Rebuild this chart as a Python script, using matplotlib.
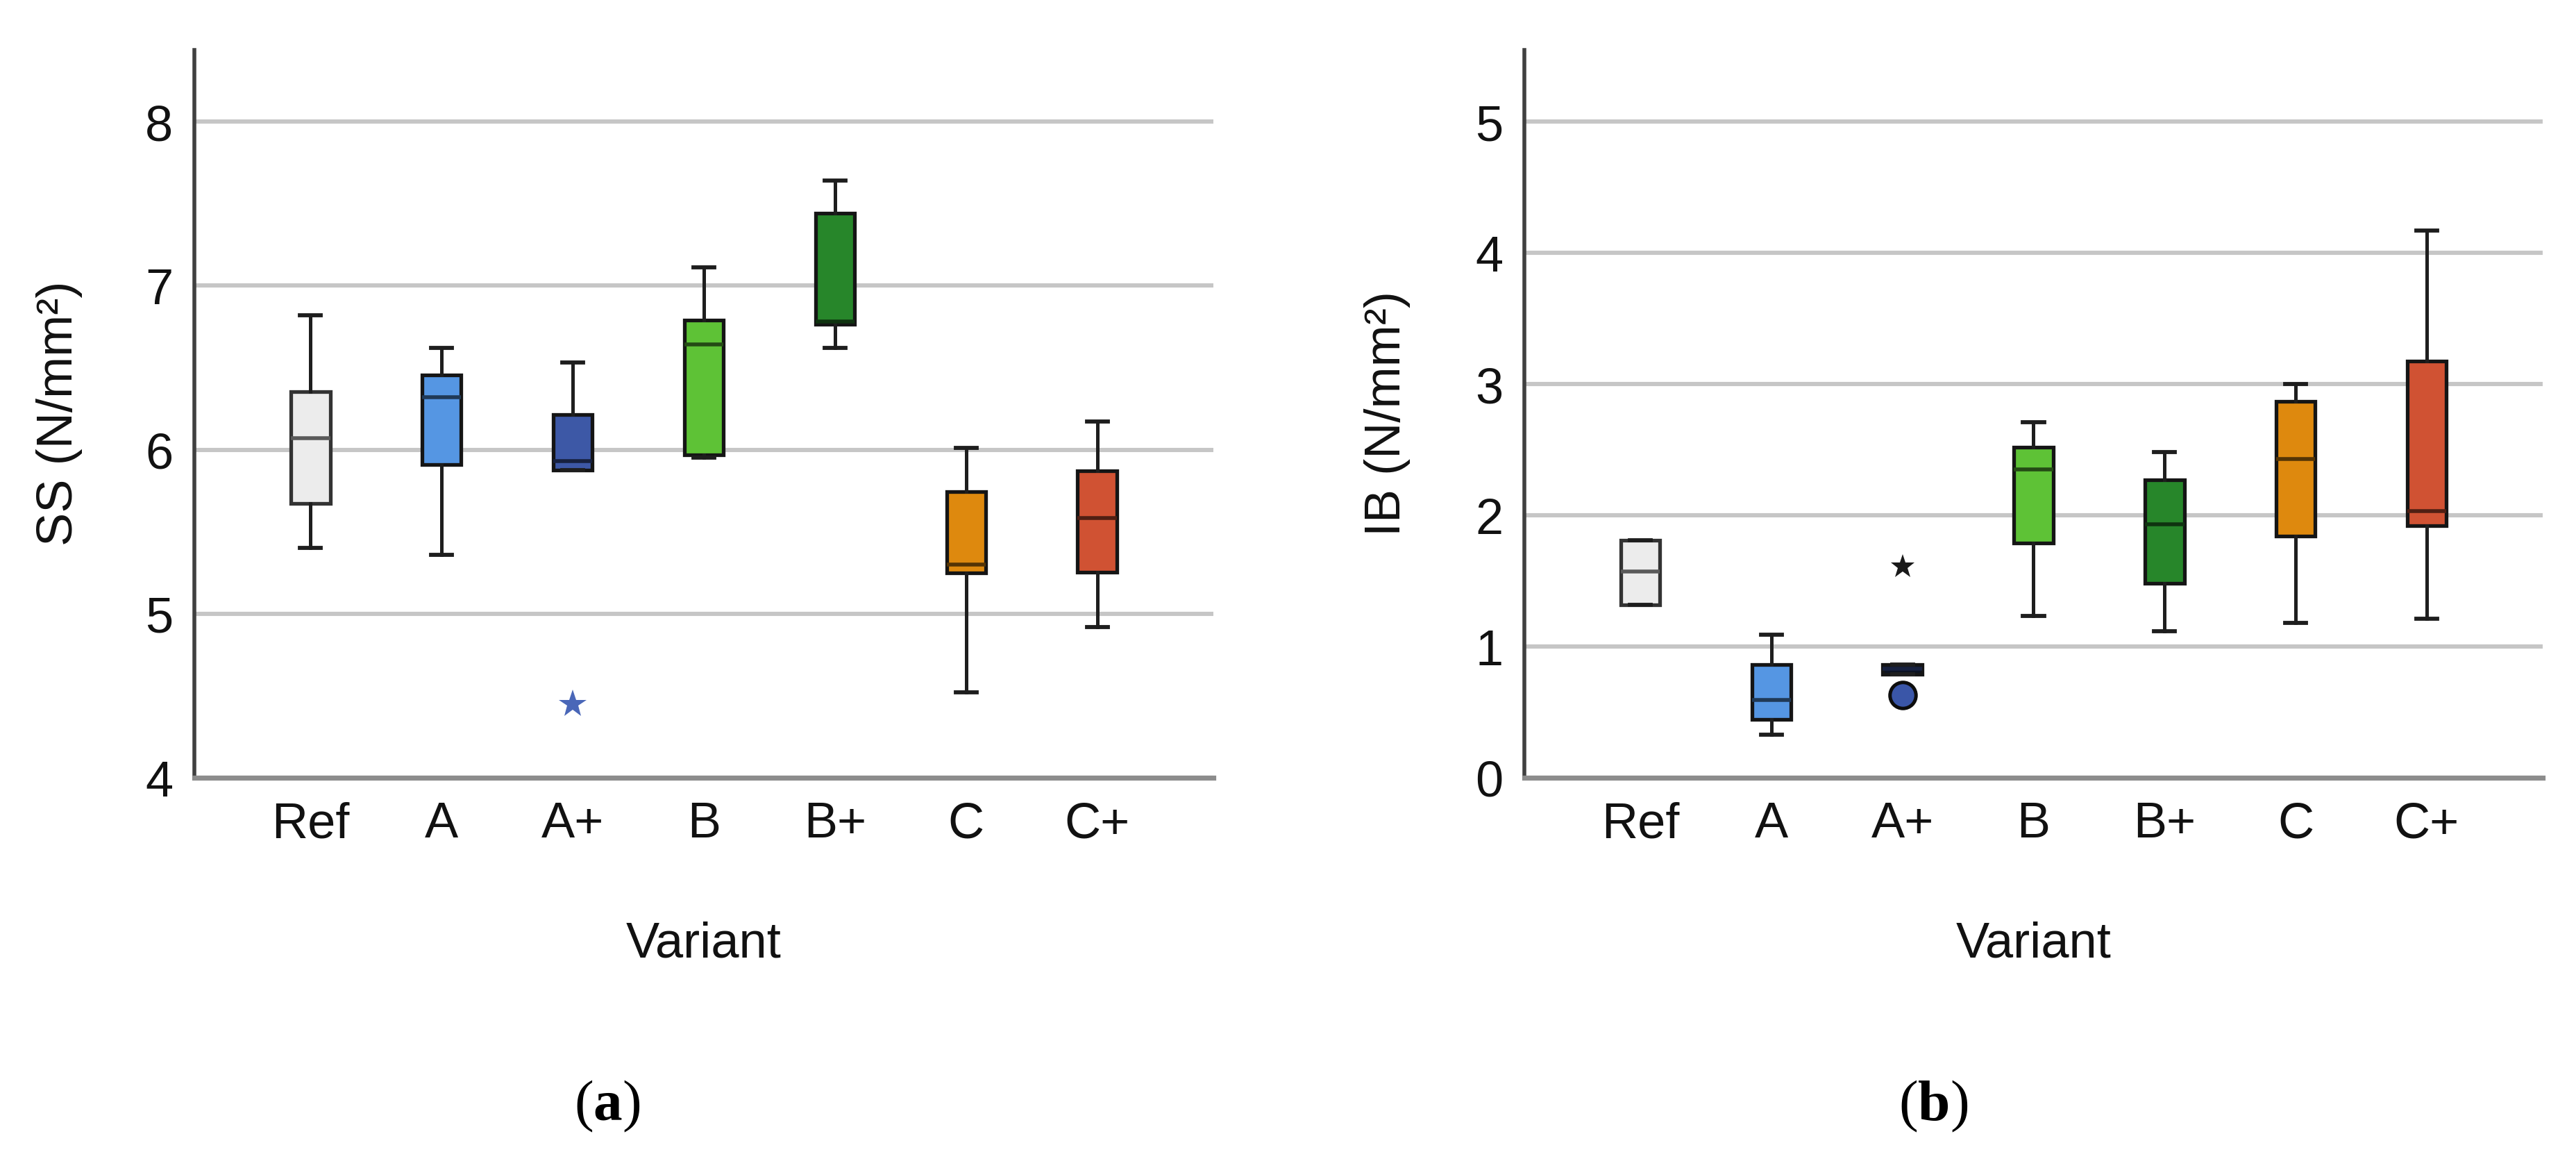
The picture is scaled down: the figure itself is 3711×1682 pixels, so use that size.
import matplotlib
matplotlib.use("Agg")
import matplotlib.pyplot as plt
import numpy as np

plt.rcParams['font.family'] = ['Liberation Sans', 'DejaVu Sans']
plt.rcParams['mathtext.fontset'] = 'custom'
plt.rcParams['mathtext.rm'] = 'Liberation Serif'
plt.rcParams['mathtext.bf'] = 'Liberation Serif:bold'

# ---------------- data ----------------
categories = ['Ref', 'A', 'A+', 'B', 'B+', 'C', 'C+']
box_colors = ['#ececec', '#5596e3', '#3d58a6', '#5ec236', '#27862a', '#de890e', '#d05233']

# Panel (a): SS (N/mm²)
ss_whislo = [5.40, 5.36, 5.875, 5.95, 6.62, 4.52, 4.92]
ss_q1     = [5.67, 5.91, 5.875, 5.97, 6.765, 5.25, 5.255]
ss_med    = [6.07, 6.32, 5.93, 6.64, 6.78, 5.30, 5.585]
ss_q3     = [6.355, 6.455, 6.215, 6.79, 7.44, 5.745, 5.87]
ss_whishi = [6.82, 6.62, 6.53, 7.11, 7.64, 6.01, 6.17]
ss_star_cat = ['A+']
ss_star_val = [4.45]

# Panel (b): IB (N/mm²)
ib_whislo = [1.32, 0.33, 0.79, 1.235, 1.115, 1.18, 1.21]
ib_q1     = [1.32, 0.445, 0.79, 1.79, 1.48, 1.84, 1.92]
ib_med    = [1.57, 0.595, 0.83, 2.35, 1.93, 2.43, 2.03]
ib_q3     = [1.81, 0.865, 0.865, 2.52, 2.27, 2.87, 3.175]
ib_whishi = [1.81, 1.09, 0.865, 2.71, 2.48, 3.00, 4.17]
ib_star_cat = ['A+']
ib_star_val = [1.61]
ib_circle_cat = ['A+']
ib_circle_val = [0.63]

ss_yticks = [4, 5, 6, 7, 8]
ib_yticks = [0, 1, 2, 3, 4, 5]

# ---------------- figure ----------------
W, H = 3712, 1683
DPI = 200
fig = plt.figure(figsize=(W / DPI, H / DPI), dpi=DPI)
fig.patch.set_facecolor('white')

ax_top, ax_bot = 73, 1121


def add_ax(x0, x1):
    return fig.add_axes([x0 / W, 1 - ax_bot / H, (x1 - x0) / W, (ax_bot - ax_top) / H])


ax1 = add_ax(280, 1748)
ax2 = add_ax(2196, 3663)


def darken(c, f):
    r, g, b = matplotlib.colors.to_rgb(c)
    return (r * f, g * f, b * f)


def draw_panel(ax, whislo, q1, med, q3, whishi, ylim, yticks, face_override=None):
    positions = np.arange(1, len(categories) + 1)
    stats = []
    for i, c in enumerate(categories):
        stats.append(dict(label=c, whislo=whislo[i], q1=q1[i], med=med[i],
                          q3=q3[i], whishi=whishi[i], fliers=[]))
    res = ax.bxp(stats, positions=positions, widths=0.3, patch_artist=True,
                 showfliers=False, capwidths=0.16,
                 boxprops=dict(linewidth=1.9, edgecolor='#151515'),
                 whiskerprops=dict(linewidth=1.8, color='#1e1e1e'),
                 capprops=dict(linewidth=2.1, color='#1e1e1e'),
                 medianprops=dict(linewidth=2.0, color='black'),
                 zorder=3)
    for i, patch in enumerate(res['boxes']):
        fc = box_colors[i]
        if face_override and categories[i] in face_override:
            fc = face_override[categories[i]]
        patch.set_facecolor(fc)
        if categories[i] == 'Ref':
            patch.set_edgecolor('#333333')
    for i, m in enumerate(res['medians']):
        m.set_color(darken(box_colors[i], 0.38))
    ax.set_xlim(0.115, 7.885)
    ax.set_ylim(*ylim)
    ax.set_yticks(yticks)
    ax.set_xticks(positions)
    ax.set_xticklabels(categories)
    ax.yaxis.grid(True, color='#c6c6c6', linewidth=2.2)
    ax.set_axisbelow(True)
    for s in ['top', 'right']:
        ax.spines[s].set_visible(False)
    ax.spines['left'].set_color('#404040')
    ax.spines['left'].set_linewidth(2.0)
    ax.spines['bottom'].set_color('#8c8c8c')
    ax.spines['bottom'].set_linewidth(2.6)
    ax.tick_params(axis='both', length=0, labelsize=26, colors='#111111')
    ax.tick_params(axis='y', pad=11)
    ax.tick_params(axis='x', pad=12)
    return positions


draw_panel(ax1, ss_whislo, ss_q1, ss_med, ss_q3, ss_whishi, (4, 8.436), ss_yticks)
ax1.plot([categories.index(c) + 1 for c in ss_star_cat], ss_star_val, linestyle='none',
         marker='*', markersize=15, color='#4a67b8', markeredgewidth=0, zorder=4)

draw_panel(ax2, ib_whislo, ib_q1, ib_med, ib_q3, ib_whishi, (0, 5.545), ib_yticks,
           face_override={'A+': '#0b1222'})
ax2.plot([categories.index(c) + 1 for c in ib_star_cat], ib_star_val, linestyle='none',
         marker='*', markersize=13, color='#1a1a1a', markeredgewidth=0, zorder=4)
ax2.plot([categories.index(c) + 1 for c in ib_circle_cat], ib_circle_val, linestyle='none',
         marker='o', markersize=13.5, markerfacecolor='#3a56a8', markeredgecolor='#0d0d0d',
         markeredgewidth=1.8, zorder=4)

# axis titles
fig.text(86 / W, 1 - 595 / H, 'SS (N/mm²)', rotation=90, ha='center', va='center',
         fontsize=26, color='#111111')
fig.text(1998 / W, 1 - 595 / H, 'IB (N/mm²)', rotation=90, ha='center', va='center',
         fontsize=26, color='#111111')
fig.text(1014 / W, 1 - 1360 / H, 'Variant', ha='center', va='center', fontsize=26,
         color='#111111')
fig.text(2930 / W, 1 - 1360 / H, 'Variant', ha='center', va='center', fontsize=26,
         color='#111111')

# panel letters
fig.text(875 / W, 1 - 1593 / H, r'($\mathbf{a}$)', ha='center', va='center', fontsize=30,
         family='Liberation Serif')
fig.text(2785 / W, 1 - 1593 / H, r'($\mathbf{b}$)', ha='center', va='center', fontsize=30,
         family='Liberation Serif')

fig.savefig('out.png', dpi=DPI, facecolor='white')
